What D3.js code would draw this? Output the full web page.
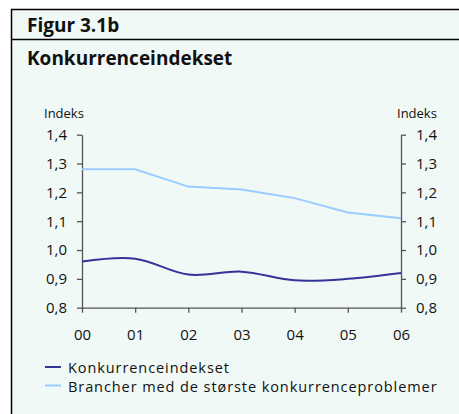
<!DOCTYPE html>
<html><head><meta charset="utf-8">
<script src="https://cdn.jsdelivr.net/npm/d3@7/dist/d3.min.js"></script>
<style>
html,body{margin:0;padding:0;background:#fff;}
svg{display:block;}
text{font-family:"Open Sans",sans-serif;fill:#111;}
</style></head><body>
<svg id="c" width="459" height="414"></svg>
<script>
const years = ["00","01","02","03","04","05","06"];
const konkurrenceindekset = [0.96,0.97,0.915,0.925,0.895,0.90,0.92];
const brancher = [1.28,1.28,1.22,1.21,1.18,1.13,1.11];
const yTicks = [0.8,0.9,1.0,1.1,1.2,1.3,1.4];
const seriesNames = ["Konkurrenceindekset","Brancher med de største konkurrenceproblemer"];
const colors = ["#333399","#99ccff"];

const svg = d3.select("#c");
svg.append("rect").attr("x",12).attr("y",10).attr("width",447).attr("height",404).attr("fill","#f0f9f6");
svg.append("line").attr("x1",11.5).attr("x2",11.5).attr("y1",9.5).attr("y2",414).attr("stroke","#000").attr("stroke-width",1.5);
svg.append("line").attr("x1",11).attr("x2",459).attr("y1",9.5).attr("y2",9.5).attr("stroke","#000").attr("stroke-width",1.5);
svg.append("line").attr("x1",11).attr("x2",459).attr("y1",39.5).attr("y2",39.5).attr("stroke","#000").attr("stroke-width",1.5);

svg.append("text").attr("x",27).attr("y",32).attr("font-weight","bold").attr("font-size",19).text("Figur 3.1b");
svg.append("text").attr("x",27).attr("y",65).attr("font-weight","bold").attr("font-size",19).text("Konkurrenceindekset");

const x0 = 82, x1 = 401, yTop = 134.7, yBot = 307.7;
const x = d3.scalePoint().domain(years).range([x0,x1]);
const y = d3.scaleLinear().domain([0.8,1.4]).range([yBot,yTop]);

const fmt = d => d3.format(".1f")(d).replace(".",",");
const axCol = "#555";
const gl = svg.append("g").attr("transform",`translate(${x0},0)`)
  .call(d3.axisLeft(y).tickValues(yTicks).tickFormat(fmt).tickSize(5).tickPadding(10).tickSizeOuter(0));
const gr = svg.append("g").attr("transform",`translate(${x1},0)`)
  .call(d3.axisRight(y).tickValues(yTicks).tickFormat(fmt).tickSize(5).tickPadding(10).tickSizeOuter(0));
const gb = svg.append("g").attr("transform",`translate(0,${yBot})`)
  .call(d3.axisBottom(x).tickSize(5).tickPadding(17).tickSizeOuter(0));
[gl,gr,gb].forEach(g=>{
  g.selectAll("path").attr("stroke",axCol).attr("stroke-width",1.3);
  g.selectAll("line").attr("stroke",axCol).attr("stroke-width",1.3);
  g.selectAll("text").attr("font-size",15).attr("font-family","Open Sans, sans-serif").attr("fill","#111");
});

svg.append("text").attr("x",44).attr("y",118).attr("font-size",13).text("Indeks");
svg.append("text").attr("x",397).attr("y",118).attr("font-size",13).text("Indeks");

const lineSmooth = d3.line().x((d,i)=>x(years[i])).y(d=>y(d)).curve(d3.curveCatmullRom.alpha(0.5));
const lineLin = d3.line().x((d,i)=>x(years[i])).y(d=>y(d));
svg.append("path").attr("d",lineLin(brancher)).attr("fill","none").attr("stroke",colors[1]).attr("stroke-width",2);
svg.append("path").attr("d",lineSmooth(konkurrenceindekset)).attr("fill","none").attr("stroke",colors[0]).attr("stroke-width",2);

seriesNames.forEach((n,i)=>{
  const yy = 367 + i*18.5;
  svg.append("line").attr("x1",45).attr("x2",61).attr("y1",yy).attr("y2",yy).attr("stroke",colors[i]).attr("stroke-width",2);
  svg.append("text").attr("x",68).attr("y",yy+6).attr("font-size",14.5).attr("letter-spacing",0.92).text(n);
});
</script>
</body></html>
